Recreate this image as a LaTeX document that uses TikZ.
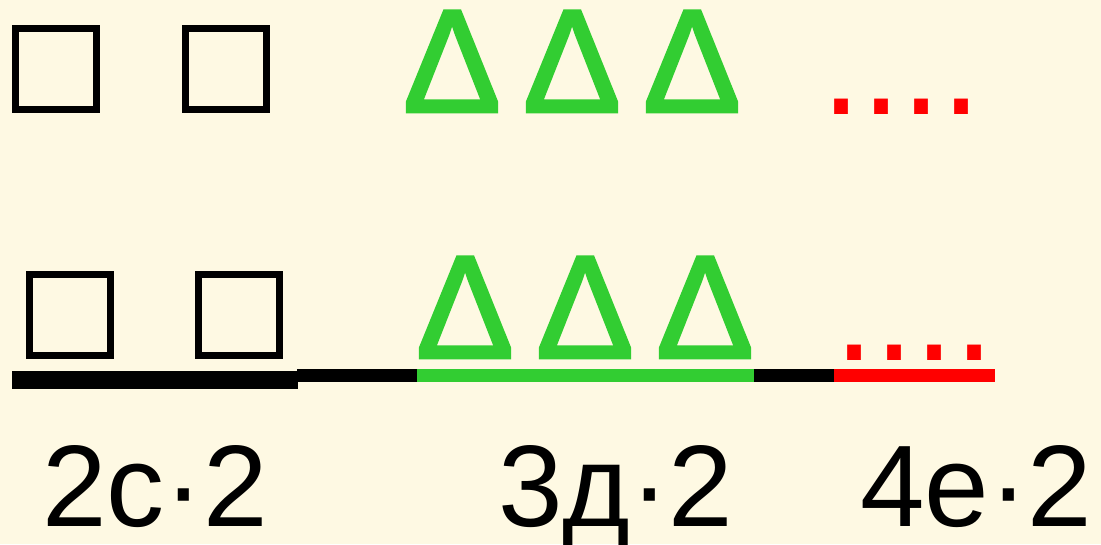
\documentclass[tikz,border=0pt]{standalone}
\usepackage{fontspec}
\setmainfont{Liberation Sans}
\newfontfamily\deltafont[FakeBold=2]{Liberation Sans}
\definecolor{bgc}{RGB}{254,249,227}
\definecolor{grn}{RGB}{50,205,50}
\definecolor{rd}{RGB}{255,0,0}
\begin{document}
\begin{tikzpicture}[x=1pt,y=-1pt,
  sq/.style={draw=black,line width=7pt,minimum size=81pt,inner sep=0pt,outer sep=0pt},
  tri/.style={text=grn,inner sep=0pt,anchor=base,font=\deltafont\fontsize{147}{147}\selectfont},
  dots/.style={text=rd,inner sep=0pt,anchor=base west,font=\fontsize{144}{144}\selectfont},
  lab/.style={text=black,inner sep=0pt,anchor=base west,font=\fontsize{116}{116}\selectfont},
  bar/.style={line width=#1}]
\fill[bgc] (0,0) rectangle (1101,544);
\useasboundingbox (0,0) rectangle (1101,544);
% top row
\node[sq] (s1) at (56,69) {};
\node[sq] (s2) at (225.5,69) {};
\node[tri] (t1) at (452,112) {Δ};
\node[tri] (t2) at (572,112) {Δ};
\node[tri] (t3) at (692,112) {Δ};
\node[dots] (d1) at (821,114) {....};
% bottom row
\node[sq] (s3) at (69.5,314.5) {};
\node[sq] (s4) at (239,314.5) {};
\node[tri] (t4) at (465,358) {Δ};
\node[tri] (t5) at (585,358) {Δ};
\node[tri] (t6) at (705,358) {Δ};
\node[dots] (d2) at (834,360) {....};
% bars
\coordinate (a0) at (12,380);
\coordinate (a1) at (298,380);
\coordinate (b0) at (297,375.5);
\coordinate (b1) at (417,375.5);
\coordinate (b2) at (754,375.5);
\coordinate (b3) at (834,375.5);
\coordinate (b4) at (995,375.5);
\draw[bar=18pt,black] (a0) -- (a1);
\draw[bar=13pt,black] (b0) -- (b1);
\draw[bar=13pt,grn] (b1) -- (b2);
\draw[bar=13pt,black] (b2) -- (b3);
\draw[bar=13pt,rd] (b3) -- (b4);
% labels
\node[lab] (l1) at (42,526) {2с·2};
\node[lab] (l2) at (498,526) {3д·2};
\node[lab] (l3) at (860,526) {4е·2};
\end{tikzpicture}
\end{document}
